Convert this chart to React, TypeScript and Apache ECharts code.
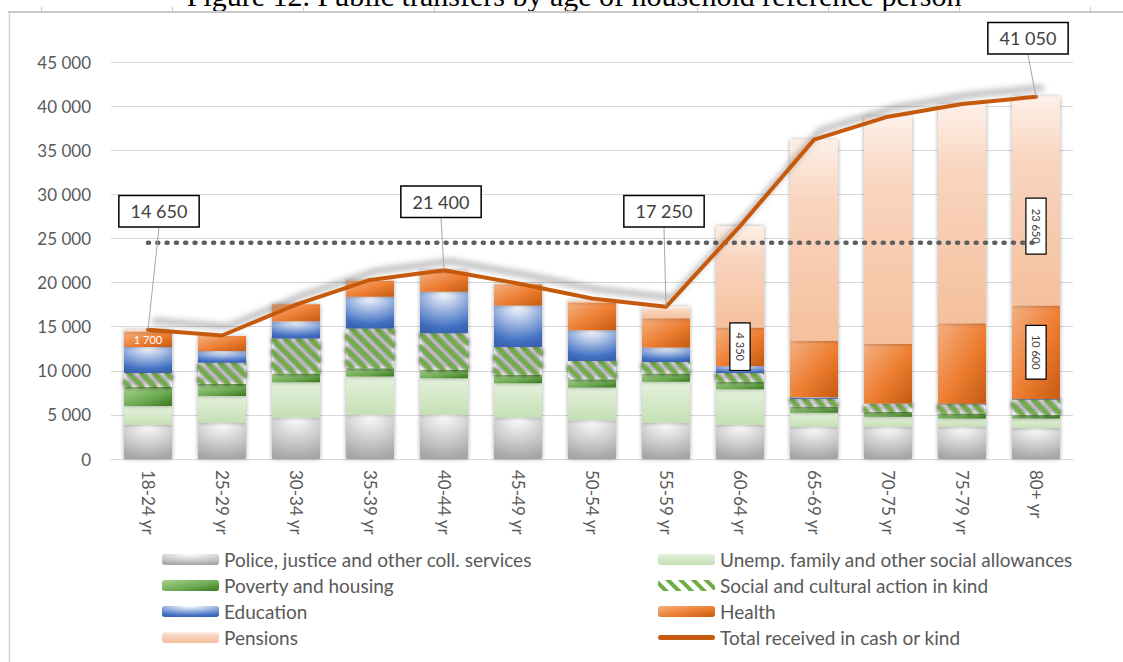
import React, { useEffect, useRef } from 'react';
import * as echarts from 'echarts';

const categories = ['18-24 yr', '25-29 yr', '30-34 yr', '35-39 yr', '40-44 yr', '45-49 yr', '50-54 yr', '55-59 yr', '60-64 yr', '65-69 yr', '70-75 yr', '75-79 yr', '80+ yr'];
const police = [3850, 4100, 4700, 5050, 5050, 4700, 4400, 4100, 3850, 3650, 3650, 3650, 3500];
const unemp = [2150, 3050, 4000, 4300, 4100, 3900, 3700, 4650, 4050, 1600, 1150, 950, 1100];
const poverty = [2150, 1350, 1000, 950, 950, 950, 950, 950, 850, 700, 550, 550, 400];
const social = [1600, 2400, 3950, 4500, 4150, 3150, 2050, 1300, 1000, 850, 900, 1050, 1750];
const education = [2950, 1350, 1950, 3600, 4700, 4700, 3500, 1650, 800, 200, 50, 50, 50];
const health = [1700, 1700, 1950, 1800, 2250, 2400, 3150, 3300, 4350, 6400, 6750, 9150, 10600];
const pensions = [250, 50, 0, 50, 200, 100, 200, 1300, 11500, 22800, 25750, 24850, 23650];
const total = [14650, 14000, 17500, 20300, 21400, 19900, 18200, 17250, 26400, 36200, 38800, 40250, 41050];
const average = [24500, 24500, 24500, 24500, 24500, 24500, 24500, 24500, 24500, 24500, 24500, 24500, 24500];

const yTicks = { min: 0, max: 45000, interval: 5000 };

const names = {
  police: 'Police, justice and other coll. services',
  unemp: 'Unemp. family and other social allowances',
  poverty: 'Poverty and housing',
  social: 'Social and cultural action in kind',
  education: 'Education',
  health: 'Health',
  pensions: 'Pensions',
  total: 'Total received in cash or kind',
};

const titleText = 'Figure 12. Public transfers by age of household reference person';

// which points carry a value label (layout only)
const totalLabelIdx = [0, 4, 7, 12];
const totalLabelShift: Record<number, [number, number]> = {
  0: [11, -98],
  4: [-3, -48],
  7: [-2, -75],
  12: [-8, -38],
};
const healthSmallLabelIdx = [0];
const healthBoxLabelIdx = [8, 12];
const pensionBoxLabelIdx = [12];

const FONT = 'Lato';
const TXT = '#595959';

const fmt = (v: number) => String(Math.round(v)).replace(/\B(?=(\d{3})+(?!\d))/g, ' ');

export default function App() {
  const ref = useRef<HTMLDivElement>(null);
  useEffect(() => {
    document.body.style.margin = '0';
    if (!ref.current) return;
    const chart = echarts.init(ref.current, undefined, { renderer: 'svg' });
    const G = echarts.graphic;
    const shadow = { shadowBlur: 4, shadowColor: 'rgba(0,0,0,0.35)', shadowOffsetX: 0, shadowOffsetY: 0 };

    const boxLabel = {
      show: true,
      position: 'inside',
      rotate: -90,
      backgroundColor: '#ffffff',
      borderColor: '#000000',
      borderWidth: 1.2,
      padding: [4, 9],
      color: '#404040',
      fontSize: 11,
      fontFamily: FONT,
    };

    const baseLabel = {
      show: false,
      position: 'inside',
      formatter: (p: any) => fmt(p.value),
    };

    const bar = (name: string, data: any[], itemStyle: any, extra: any = {}) => ({
      name,
      type: 'bar',
      stack: 'total',
      barWidth: 48,
      data,
      itemStyle: { ...shadow, ...itemStyle },
      label: baseLabel,
      emphasis: { disabled: true },
      ...extra,
    });

    const healthData = health.map((v, i) => {
      if (healthSmallLabelIdx.includes(i))
        return { value: v, label: { show: true, color: '#ffffff', fontSize: 11, fontFamily: FONT } };
      if (healthBoxLabelIdx.includes(i)) return { value: v, label: boxLabel };
      return v;
    });
    const pensionData = pensions.map((v, i) => {
      if (pensionBoxLabelIdx.includes(i)) return { value: v, label: { ...boxLabel, padding: [4, 10], offset: [25, 0] } };
      return v;
    });
    const totalData = total.map((v, i) =>
      totalLabelIdx.includes(i) ? { value: v, label: { show: true }, labelLine: { show: true } } : v
    );

    const legendCommon = {
      orient: 'vertical',
      top: 545,
      itemWidth: 57,
      itemHeight: 11,
      itemGap: 7,
      selectedMode: false,
      textStyle: { color: TXT, fontSize: 19, fontFamily: FONT },
      itemStyle: { shadowBlur: 0, shadowColor: 'rgba(0,0,0,0)' },
      lineStyle: { shadowBlur: 0, shadowColor: 'rgba(0,0,0,0)' },
    };

    const option: any = {
      animation: false,
      backgroundColor: '#ffffff',
      textStyle: { fontFamily: FONT },
      grid: { left: 111, right: 50, top: 62, bottom: 203, containLabel: false },
      xAxis: {
        type: 'category',
        data: categories,
        axisLine: { lineStyle: { color: '#d9d9d9', width: 1 } },
        axisTick: { show: false },
        axisLabel: { rotate: -90, margin: 11, color: TXT, fontSize: 17, fontFamily: FONT },
      },
      yAxis: {
        type: 'value',
        ...yTicks,
        axisLine: { show: false },
        axisTick: { show: false },
        splitLine: { lineStyle: { color: '#d9d9d9', width: 1 } },
        axisLabel: { color: TXT, fontSize: 17, fontFamily: FONT, margin: 20, formatter: (v: number) => fmt(v) },
      },
      legend: [
        {
          ...legendCommon,
          left: 157,
          data: [names.police, names.poverty, names.education, names.pensions],
        },
        {
          ...legendCommon,
          left: 653,
          data: [
            names.unemp,
            names.social,
            names.health,
            { name: names.total, icon: 'path://M2.5,0 L54.5,0 A2.5,2.5 0 0 1 54.5,5 L2.5,5 A2.5,2.5 0 0 1 2.5,0 Z' },
          ],
        },
      ],
      graphic: [
        {
          type: 'text',
          x: 574,
          y: -5,
          silent: true,
          style: {
            text: titleText,
            fill: '#000000',
            fontSize: 30,
            fontFamily: '"Liberation Serif", "Times New Roman", serif',
            align: 'center',
            verticalAlign: 'middle',
            textAlign: 'center',
            textVerticalAlign: 'middle',
          },
        },
        { type: 'line', silent: true, shape: { x1: 8, y1: 12, x2: 1123, y2: 12 }, style: { stroke: '#c8c8c8', lineWidth: 2 } },
        { type: 'line', silent: true, shape: { x1: 9.5, y1: 12, x2: 9.5, y2: 662 }, style: { stroke: '#d4d4d4', lineWidth: 1.5 } },
        ...[41, 172, 303, 434, 566, 697, 828, 959, 1090].map((x) => ({
          type: 'line',
          silent: true,
          shape: { x1: x + 0.5, y1: 7, x2: x + 0.5, y2: 12 },
          style: { stroke: '#c8c8c8', lineWidth: 1 },
        })),
      ],
      series: [
        bar(names.police, police, {
          color: new G.RadialGradient(0.5, 0, 1, [
            { offset: 0, color: '#ffffff' },
            { offset: 1, color: '#a6a6a6' },
          ]),
        }),
        bar(names.unemp, unemp, {
          color: new G.LinearGradient(0, 0, 0, 1, [
            { offset: 0, color: '#e4f1dc' },
            { offset: 1, color: '#c5e0b4' },
          ]),
        }),
        bar(names.poverty, poverty, {
          color: new G.LinearGradient(0, 0, 1, 1, [
            { offset: 0, color: '#a9d18e' },
            { offset: 0.6, color: '#6aa84f' },
            { offset: 1, color: '#38761d' },
          ]),
        }),
        bar(names.social, social, {
          color: '#ffffff',
          decal: {
            symbol: 'rect',
            symbolSize: 1,
            color: '#70ad47',
            dashArrayX: [1, 0],
            dashArrayY: [3.5, 5],
            rotation: Math.PI / 4,
          },
        }),
        bar(names.education, education, {
          color: new G.RadialGradient(0.5, 0, 1, [
            { offset: 0, color: '#ffffff' },
            { offset: 0.85, color: '#4472c4' },
            { offset: 1, color: '#3a64b0' },
          ]),
        }),
        bar(names.health, healthData, {
          color: new G.LinearGradient(0, 0, 1, 1, [
            { offset: 0, color: '#f4b183' },
            { offset: 0.55, color: '#ed7d31' },
            { offset: 1, color: '#c55a11' },
          ]),
        }),
        bar(names.pensions, pensionData, {
          color: new G.LinearGradient(0, 0, 0, 1, [
            { offset: 0, color: '#fdf0e8' },
            { offset: 0.3, color: '#f9d5bf' },
            { offset: 1, color: '#f5c09d' },
          ]),
        }),
        {
          name: 'Average',
          type: 'line',
          data: average,
          symbol: 'none',
          silent: true,
          lineStyle: {
            color: '#5f5f5f',
            width: 4.5,
            type: [1, 8.3],
            cap: 'round',
          },
          emphasis: { disabled: true },
        },
        {
          name: names.total,
          type: 'line',
          data: totalData,
          symbol: 'circle',
          symbolSize: 1,
          itemStyle: { color: '#c55a11' },
          lineStyle: {
            color: '#c55a11',
            width: 4,
            cap: 'round',
            join: 'round',
            shadowBlur: 6,
            shadowColor: 'rgba(0,0,0,0.4)',
            shadowOffsetX: 6,
            shadowOffsetY: -9,
          },
          label: {
            show: false,
            position: 'top',
            distance: 5,
            formatter: (p: any) => fmt(p.value),
            backgroundColor: '#ffffff',
            borderColor: '#000000',
            borderWidth: 1.5,
            padding: [6, 11],
            color: '#404040',
            fontSize: 18,
            fontFamily: FONT,
          },
          labelLine: { show: false, lineStyle: { color: '#a6a6a6', width: 1 } },
          labelLayout: (params: any) => {
            const s = totalLabelShift[params.dataIndex];
            return s ? { dx: s[0], dy: s[1] } : {};
          },
          emphasis: { disabled: true },
          z: 5,
        },
      ],
    };
    chart.setOption(option);
    return () => chart.dispose();
  }, []);
  return <div ref={ref} style={{ width: 1123, height: 662 }} />;
}
